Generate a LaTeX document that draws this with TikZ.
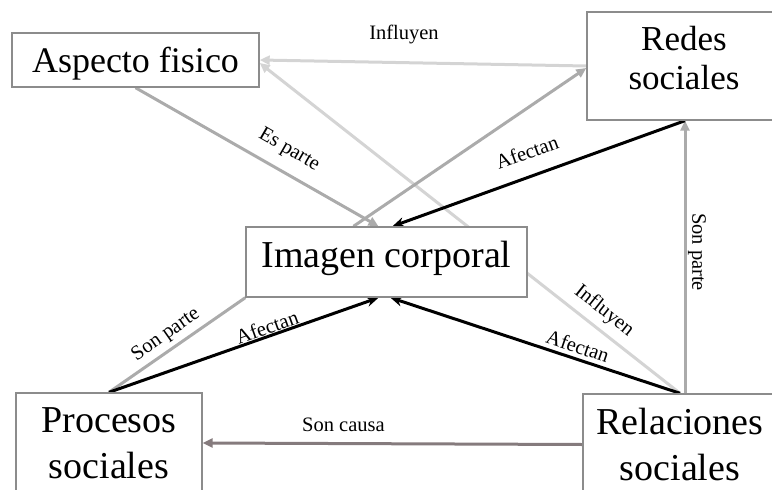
\documentclass[tikz,border=0pt]{standalone}
\usepackage{fontspec}
\setmainfont{Liberation Serif}
\usetikzlibrary{arrows.meta,backgrounds}
\definecolor{midgray}{HTML}{ABABAB}
\definecolor{faintgray}{HTML}{D4D4D4}
\definecolor{causegray}{HTML}{857B7D}
\definecolor{boxline}{HTML}{8C8C8C}
\begin{document}
\begin{tikzpicture}[x=1pt,y=-1pt,
  concept/.style={draw=boxline,line width=1.4pt,fill=white,inner sep=0pt,
    align=center,font=\fontsize{38}{46}\selectfont},
  conn/.style={line width=3pt},
  strong/.style={conn,black,-{Stealth[length=12pt,width=10pt]}},
  part/.style={conn,midgray,-{Triangle[length=10pt,width=9pt]}},
  faint/.style={conn,faintgray,-{Triangle[length=10pt,width=9pt]}},
  cause/.style={conn,causegray,-{Triangle[length=10pt,width=9pt]}},
  tag/.style={font=\fontsize{20.5}{23}\selectfont,inner sep=0pt},
]
\useasboundingbox (0,0) rectangle (772,490);
\clip (0,0) rectangle (772,490);

% concept boxes
\node[concept,font=\fontsize{36}{44}\selectfont,minimum width=247pt,minimum height=54pt,
  text height=30pt,text depth=6pt] (asp) at (135.5,60) {Aspecto fisico};
\node[concept,minimum width=194pt,minimum height=108pt] (red) at (684,66) {};
\node[align=center,inner sep=0pt,font=\fontsize{35}{39}\selectfont]
  (redtxt) at (684,58) {Redes\\sociales};
\node[concept,minimum width=281pt,minimum height=70pt,text height=25pt,text depth=15pt]
  (img) at (386.5,262) {Imagen corporal};
\node[concept,minimum width=186pt,minimum height=100pt] (pro) at (109,443) {Procesos\\sociales};
\node[concept,minimum width=194pt,minimum height=101pt] (rel) at (680,444.5) {Relaciones\\sociales};

% relations
\begin{scope}[on background layer]
  \draw[faint] (red.west) -- (asp.east);
  \draw[faint] (rel.north) -- ([yshift=-3pt]asp.east);
  \draw[part] (asp.south) -- ([xshift=-8pt]img.north);
  \draw[part] ([xshift=-33pt]img.north) -- ([yshift=-2pt]red.west);
  \draw[conn,midgray] (pro.north) -- (img.south west);
  \draw[part] ([xshift=5pt]rel.north) -- ([xshift=1pt]red.south);
  \draw[cause] (rel.west) -- (pro.east);
  \draw[strong] ([xshift=1pt]red.south) -- ([xshift=6pt]img.north);
  \draw[strong] (pro.north) -- ([xshift=-8pt]img.south);
  \draw[strong] (rel.north) -- ([xshift=4pt]img.south);
\end{scope}

% relation labels
\node[tag] (l1) at (404,34) {Influyen};
\node[tag,rotate=-30] (l2) at (289,150) {Es parte};
\node[tag,rotate=20] (l3) at (527,152) {Afectan};
\node[tag,rotate=35] (l4) at (166,335) {Son parte};
\node[tag,rotate=19.7] (l5) at (267,327) {Afectan};
\node[tag,rotate=-38.4] (l6) at (604,311) {Influyen};
\node[tag,rotate=-18.7] (l7) at (578,346) {Afectan};
\node[tag,rotate=-90] (l8) at (697,252) {Son parte};
\node[tag] (l9) at (343.5,425) {Son causa};
\end{tikzpicture}
\end{document}
